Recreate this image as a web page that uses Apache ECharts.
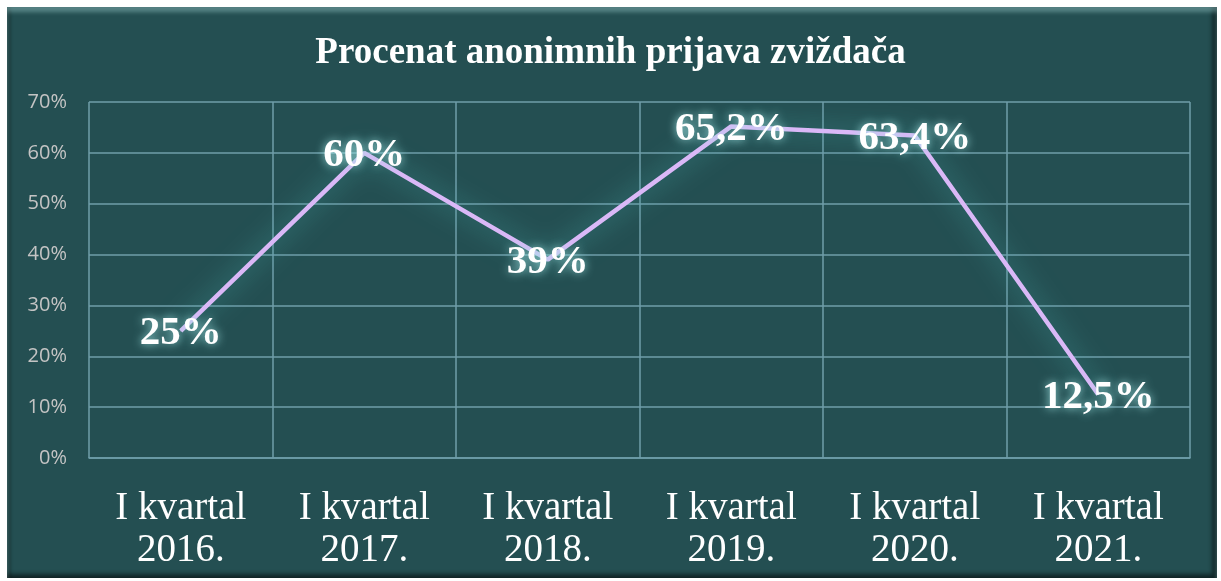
<!DOCTYPE html>
<html>
<head>
<meta charset="utf-8">
<script src="https://cdn.jsdelivr.net/npm/echarts@6/dist/echarts.min.js"></script>
<style>
  html, body { margin: 0; padding: 0; background: #ffffff; }
  #frame {
    position: absolute; left: 7px; top: 7px; width: 1210px; height: 571px;
    background: #244f52;
    box-shadow: inset 0 5px 4px rgba(150, 200, 200, 0.45), inset -5px -4px 4px rgba(0, 0, 0, 0.5), inset 4px 0 3px rgba(0, 0, 0, 0.25);
  }
  #chart { position: absolute; left: 0; top: 0; width: 1221px; height: 581px; }
</style>
</head>
<body>
<div id="frame"></div>
<div id="chart"></div>
<script>
// podaci
var categories = ["I kvartal\n2016.", "I kvartal\n2017.", "I kvartal\n2018.", "I kvartal\n2019.", "I kvartal\n2020.", "I kvartal\n2021."];
var values = [25, 60, 39, 65.2, 63.4, 12.5];
var yTicks = [0, 10, 20, 30, 40, 50, 60, 70];

var chart = echarts.init(document.getElementById("chart"));

chart.setOption({
    backgroundColor: "transparent",
    title: {
        text: "Procenat anonimnih prijava zviždača",
        left: "center",
        top: 30,
        textStyle: {
            color: "#ffffff",
            fontFamily: "Liberation Serif",
            fontWeight: "bold",
            fontSize: 37
        }
    },
    grid: {
        left: 89,
        right: 31,
        top: 102,
        bottom: 123
    },
    xAxis: {
        type: "category",
        data: categories,
        boundaryGap: true,
        axisLine: { lineStyle: { color: "#6f9eaa", width: 1.5 } },
        axisTick: { show: false },
        splitLine: { show: true, lineStyle: { color: "#6f9eaa", width: 1.5 } },
        axisLabel: {
            color: "#ffffff",
            fontFamily: "Liberation Serif",
            fontSize: 39,
            lineHeight: 42,
            margin: 30
        }
    },
    yAxis: {
        type: "value",
        min: yTicks[0],
        max: yTicks[yTicks.length - 1],
        interval: 10,
        axisLine: { show: false },
        axisTick: { show: false },
        splitLine: { lineStyle: { color: "#6f9eaa", width: 1.5 } },
        axisLabel: {
            color: "#c4c4c4",
            fontFamily: "Open Sans",
            fontSize: 20,
            margin: 22,
            formatter: "{value}%"
        }
    },
    series: [
        {
            type: "line",
            data: values,
            symbol: "circle",
            symbolSize: 1,
            showSymbol: true,
            itemStyle: { color: "#dab8f7" },
            lineStyle: {
                color: "#dab8f7",
                width: 4.5,
                shadowColor: "rgba(80, 185, 185, 0.85)",
                shadowBlur: 26
            },
            label: {
                show: true,
                position: "inside",
                offset: [0, 3],
                color: "#ffffff",
                fontFamily: "Liberation Serif",
                fontWeight: "bold",
                fontSize: 41,
                textShadowColor: "rgba(160, 230, 230, 0.95)",
                textShadowBlur: 10,
                formatter: function (p) {
                    return String(p.value).replace(".", ",") + "%";
                }
            },
            animation: false
        }
    ]
});
</script>
</body>
</html>
